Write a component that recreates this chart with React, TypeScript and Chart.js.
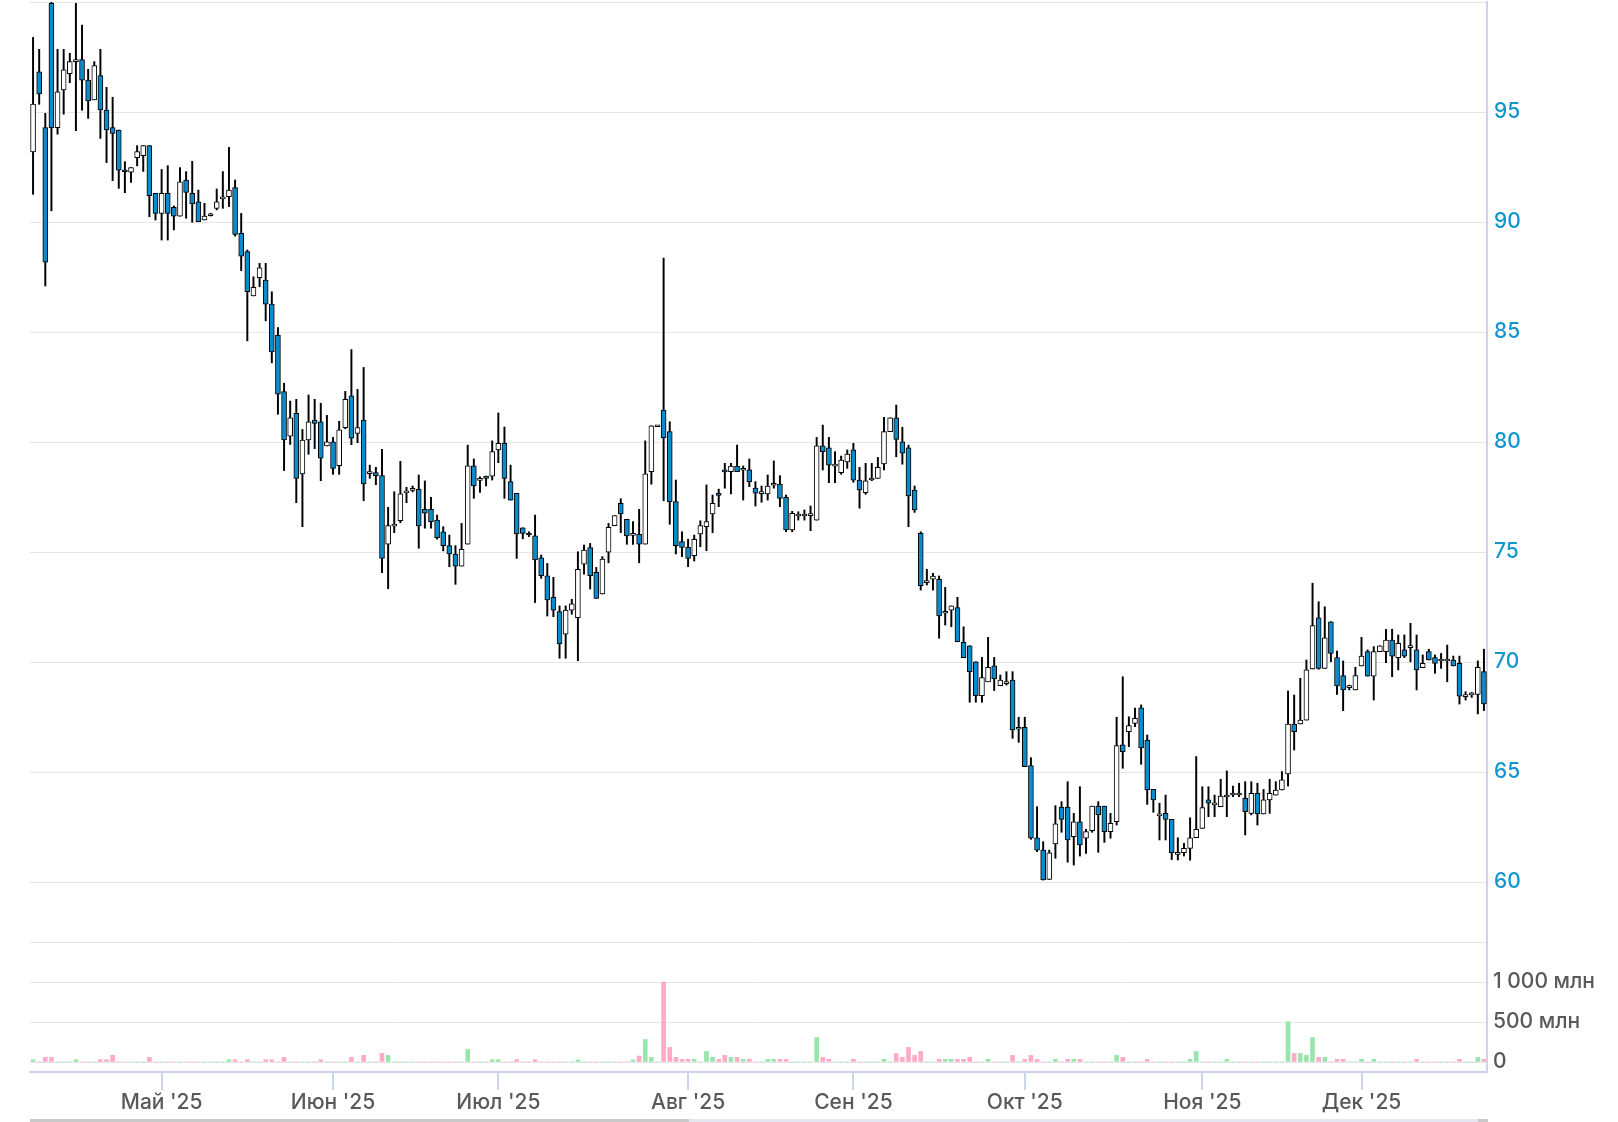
import React, { useEffect, useRef } from 'react';
import { Chart, registerables } from 'chart.js';

Chart.register(...registerables);

// ---- Data ----
const openPrices = [
  93.18, 96.83, 94.29, 99.94, 94.29, 96.0, 96.74, 97.29, 97.38, 96.45,
  95.55, 96.65, 95.09, 94.29, 94.18, 92.36, 92.26, 92.92, 93.01, 93.47,
  91.3, 90.39, 91.3, 90.67, 90.27, 91.91, 91.3, 90.92, 90.09, 90.3,
  90.62, 91.08, 91.15, 91.56, 89.48, 88.65, 86.64, 87.47, 87.36, 86.27,
  84.86, 82.29, 80.27, 81.3, 78.55, 80.09, 81.0, 80.92, 79.82, 80.01,
  78.92, 80.65, 82.1, 80.39, 81.0, 78.58, 78.61, 78.47, 75.36, 76.2,
  76.42, 77.7, 77.82, 77.85, 76.94, 76.94, 76.45, 75.92, 75.29, 74.91,
  74.36, 75.36, 78.92, 78.27, 78.45, 78.45, 79.64, 79.94, 78.2, 77.67,
  76.1, 75.84, 75.74, 74.74, 73.92, 72.94, 72.29, 71.27, 72.36, 72.01,
  74.45, 75.2, 74.08, 73.09, 74.99, 76.2, 77.21, 76.49, 75.78, 75.8,
  75.36, 78.65, 80.72, 81.45, 80.47, 77.29, 75.47, 75.21, 74.83, 75.82,
  76.15, 76.73, 77.64, 78.73, 78.65, 78.91, 78.74, 78.73, 77.9, 77.68,
  77.64, 78.06, 78.09, 77.49, 76.0, 76.66, 76.66, 76.68, 76.45, 79.83,
  79.74, 78.93, 78.61, 79.1, 79.64, 78.27, 77.7, 78.3, 78.35, 79.0,
  80.47, 81.1, 80.01, 79.74, 77.82, 75.85, 73.63, 73.76, 73.76, 72.24,
  72.36, 72.47, 70.89, 70.74, 70.01, 68.47, 69.1, 69.83, 68.92, 69.04,
  69.18, 66.97, 67.03, 65.29, 62.01, 61.45, 60.12, 61.73, 63.4, 63.4,
  62.06, 62.74, 61.99, 62.33, 63.45, 63.45, 62.29, 62.74, 66.23, 66.83,
  67.21, 67.92, 66.45, 64.21, 63.03, 63.12, 62.85, 61.28, 61.33, 61.53,
  62.01, 62.44, 63.73, 63.53, 63.42, 63.89, 63.98, 63.98, 63.8, 63.12,
  64.03, 63.09, 63.73, 63.95, 64.18, 64.91, 67.18, 67.18, 67.36, 69.68,
  72.01, 69.71, 71.83, 70.2, 69.38, 68.86, 68.73, 69.82, 70.47, 69.36,
  70.47, 70.47, 71.0, 70.2, 70.55, 70.68, 70.55, 69.74, 70.47, 70.2,
  70.07, 70.07, 70.09, 69.94, 68.45, 68.53, 68.53, 69.56,
];

const highPrices = [
  98.39, 97.85, 94.94, 100.0, 97.85, 97.85, 97.67, 99.94, 98.95, 96.94,
  97.29, 97.85, 96.12, 95.67, 94.18, 92.74, 92.47, 93.47, 93.47, 93.47,
  91.3, 92.39, 92.56, 90.73, 92.47, 92.29, 92.76, 91.45, 90.85, 90.4,
  91.5, 92.29, 93.39, 91.91, 90.39, 88.73, 87.51, 88.12, 88.12, 86.83,
  85.2, 82.67, 81.86, 81.94, 80.57, 82.14, 81.94, 81.76, 81.21, 80.21,
  80.94, 82.3, 84.2, 82.39, 83.39, 78.95, 78.85, 79.67, 77.03, 77.74,
  79.12, 77.94, 78.0, 78.5, 78.23, 77.49, 76.68, 76.15, 75.77, 75.29,
  76.3, 79.86, 79.23, 78.42, 78.45, 80.05, 81.32, 80.68, 78.95, 77.67,
  76.1, 75.92, 76.68, 74.86, 74.48, 73.85, 72.55, 72.55, 72.85, 75.01,
  75.32, 75.39, 74.3, 74.79, 76.3, 76.65, 77.42, 76.49, 76.38, 76.94,
  80.05, 80.74, 80.76, 88.36, 80.92, 78.27, 75.92, 75.58, 75.77, 76.42,
  78.05, 77.59, 77.86, 79.03, 79.03, 79.86, 78.91, 79.23, 78.2, 78.0,
  78.5, 79.14, 78.47, 77.59, 76.85, 76.83, 76.91, 77.09, 80.21, 80.77,
  80.21, 79.56, 79.36, 79.64, 79.94, 78.85, 79.03, 79.03, 79.3, 81.12,
  81.1, 81.68, 80.67, 79.86, 78.0, 75.92, 74.21, 74.03, 73.91, 73.39,
  72.55, 72.94, 71.6, 70.74, 70.01, 70.21, 71.12, 70.21, 69.41, 69.56,
  69.56, 67.49, 67.49, 65.65, 63.42, 61.83, 61.45, 63.47, 63.65, 64.56,
  63.12, 64.33, 62.39, 63.45, 63.65, 63.45, 63.12, 67.49, 69.33, 67.51,
  67.9, 68.05, 66.68, 64.21, 63.58, 63.95, 62.85, 62.01, 61.76, 62.92,
  65.7, 64.33, 64.33, 63.95, 64.67, 65.05, 64.36, 64.49, 64.56, 64.56,
  64.49, 64.21, 64.67, 64.56, 65.02, 68.68, 68.5, 69.26, 70.09, 73.58,
  72.74, 72.51, 71.83, 70.5, 70.05, 68.95, 69.76, 71.12, 70.55, 70.7,
  70.74, 71.49, 71.49, 71.23, 71.23, 71.76, 71.23, 70.32, 70.58, 70.32,
  70.39, 70.77, 70.27, 70.27, 68.65, 68.62, 70.05, 70.58,
];

const lowPrices = [
  91.26, 95.35, 87.09, 90.51, 93.99, 94.9, 96.33, 94.15, 95.08, 94.71,
  95.55, 93.8, 92.7, 91.88, 91.53, 91.33, 91.8, 92.55, 92.3, 90.24,
  90.09, 89.18, 89.18, 89.64, 90.27, 90.17, 89.99, 90.01, 90.09, 90.27,
  90.55, 90.62, 90.7, 89.36, 87.79, 84.6, 86.64, 87.06, 85.51, 83.6,
  81.26, 78.7, 79.89, 77.24, 76.15, 79.44, 79.7, 78.24, 79.82, 78.53,
  78.53, 80.6, 79.88, 79.97, 77.33, 78.35, 78.06, 74.06, 73.33, 75.88,
  76.33, 77.24, 77.73, 75.17, 76.08, 76.08, 75.58, 75.05, 74.33, 73.53,
  74.36, 75.36, 77.44, 77.71, 78.0, 78.27, 79.06, 77.44, 77.36, 74.71,
  75.6, 75.7, 72.7, 73.8, 72.09, 72.06, 70.17, 70.17, 72.17, 70.06,
  73.99, 73.32, 72.89, 73.09, 74.51, 76.2, 75.88, 75.35, 75.35, 74.51,
  75.36, 78.08, 80.72, 77.33, 76.26, 74.91, 74.79, 74.33, 74.59, 75.24,
  75.06, 75.88, 77.06, 77.9, 77.64, 78.65, 77.36, 77.97, 77.09, 77.26,
  77.36, 77.9, 77.06, 75.92, 75.92, 76.45, 76.45, 75.97, 76.45, 78.73,
  78.15, 78.15, 78.53, 78.8, 78.17, 76.99, 77.62, 78.24, 78.35, 78.73,
  80.47, 79.33, 78.99, 76.15, 76.8, 73.27, 73.5, 73.27, 71.08, 71.68,
  71.6, 70.92, 70.2, 68.17, 68.17, 68.17, 69.1, 68.7, 68.92, 68.95,
  66.53, 66.35, 65.24, 61.94, 61.38, 60.09, 60.12, 61.08, 62.26, 60.9,
  60.77, 61.18, 61.3, 62.26, 61.35, 61.8, 61.99, 62.59, 65.17, 66.15,
  67.06, 65.35, 63.53, 63.17, 61.91, 61.91, 61.02, 61.0, 61.18, 60.99,
  62.01, 62.44, 62.97, 62.97, 63.42, 62.97, 63.88, 63.88, 62.14, 63.05,
  62.59, 63.09, 63.12, 63.95, 64.18, 64.36, 66.0, 67.18, 67.36, 69.68,
  69.67, 69.71, 70.01, 68.53, 67.79, 68.73, 68.73, 69.82, 69.36, 68.27,
  70.47, 69.97, 69.33, 69.64, 70.2, 70.01, 68.73, 69.74, 70.09, 69.49,
  69.71, 69.1, 69.82, 68.09, 68.27, 68.39, 67.64, 67.79,
];

const closePrices = [
  95.36, 95.82, 88.17, 94.29, 95.92, 96.92, 97.29, 97.38, 96.45, 95.5,
  97.11, 95.09, 94.18, 94.03, 92.36, 92.3, 92.47, 93.2, 93.47, 91.2,
  90.39, 91.3, 90.39, 90.27, 91.83, 91.35, 90.82, 90.01, 90.27, 90.36,
  90.92, 91.12, 91.45, 89.44, 88.45, 86.83, 87.03, 87.92, 86.27, 84.1,
  82.17, 80.09, 81.1, 78.35, 80.09, 80.92, 80.85, 79.26, 80.01, 78.8,
  80.55, 81.94, 80.17, 80.65, 78.09, 78.64, 78.47, 74.71, 76.2, 76.24,
  77.64, 77.76, 77.88, 76.18, 76.76, 76.38, 75.65, 75.29, 74.91, 74.36,
  75.12, 78.92, 78.0, 78.33, 78.35, 79.56, 79.94, 78.35, 77.36, 75.82,
  75.85, 75.8, 74.64, 73.92, 72.82, 72.36, 70.82, 72.36, 72.64, 74.21,
  75.09, 73.92, 72.89, 74.68, 76.12, 76.65, 76.73, 75.73, 75.82, 75.36,
  78.55, 80.74, 80.76, 80.2, 77.29, 75.29, 75.21, 74.71, 75.58, 76.2,
  76.38, 77.21, 77.6, 78.65, 78.91, 78.65, 78.78, 78.2, 77.67, 77.72,
  78.0, 78.1, 77.44, 76.0, 76.76, 76.7, 76.7, 76.72, 79.83, 79.56,
  78.95, 78.97, 79.18, 79.45, 78.27, 77.82, 78.23, 78.34, 78.85, 80.47,
  81.1, 80.12, 79.49, 77.55, 76.91, 73.47, 73.67, 73.91, 72.09, 72.28,
  72.55, 70.92, 70.2, 69.56, 68.47, 69.29, 69.76, 69.23, 69.18, 69.08,
  66.91, 67.01, 65.24, 61.99, 61.45, 60.09, 61.33, 62.64, 62.85, 61.91,
  62.74, 61.68, 62.29, 63.45, 63.05, 62.29, 62.67, 66.2, 65.92, 67.11,
  67.44, 66.1, 64.18, 63.73, 63.07, 62.85, 61.33, 61.32, 61.53, 62.01,
  62.39, 63.38, 63.58, 63.57, 63.91, 63.93, 64.02, 64.02, 63.2, 64.03,
  63.09, 63.73, 64.03, 64.18, 64.64, 67.18, 66.83, 67.36, 69.64, 71.65,
  69.71, 71.1, 70.39, 68.91, 68.73, 68.9, 69.38, 70.27, 69.36, 70.47,
  70.74, 71.0, 70.27, 70.85, 70.27, 70.72, 69.64, 69.94, 70.09, 69.94,
  70.11, 70.11, 69.82, 68.45, 68.49, 68.57, 69.76, 68.09,
];

// volume, millions
const volumes = [
  29, 0, 58, 58, 0, 0, 0, 29, 0, 0, 0, 29, 29, 83, 0, 0, 0, 0, 0, 58,
  0, 0, 0, 0, 0, 0, 0, 0, 0, 0, 0, 0, 29, 29, 0, 29, 0, 0, 29, 29,
  0, 58, 0, 0, 0, 0, 0, 29, 0, 0, 0, 0, 58, 0, 83, 0, 0, 108, 83, 0,
  0, 0, 0, 0, 0, 0, 0, 0, 0, 0, 0, 157, 0, 0, 0, 29, 29, 0, 0, 29,
  0, 0, 29, 0, 0, 0, 0, 0, 0, 25, 0, 0, 0, 0, 0, 0, 0, 0, 25, 74,
  281, 58, 0, 1000, 182, 58, 33, 33, 33, 0, 132, 58, 33, 83, 58, 58, 33, 33, 0, 0,
  33, 33, 33, 33, 0, 0, 0, 0, 306, 58, 33, 0, 0, 0, 33, 0, 0, 0, 0, 33,
  0, 107, 58, 182, 83, 132, 0, 0, 33, 33, 33, 33, 33, 58, 0, 0, 33, 0, 0, 0,
  83, 0, 33, 83, 33, 0, 0, 33, 0, 33, 33, 33, 0, 0, 0, 0, 0, 83, 58, 0,
  0, 0, 33, 0, 0, 0, 0, 0, 0, 33, 132, 0, 0, 0, 0, 33, 0, 0, 0, 0,
  0, 0, 0, 0, 0, 504, 107, 107, 83, 306, 58, 58, 0, 33, 33, 0, 0, 33, 0, 33,
  0, 0, 0, 0, 0, 0, 33, 0, 0, 0, 0, 0, 0, 33, 0, 0, 58, 33,
];

const monthTickIndex = [21, 49, 76, 107, 134, 162, 191, 217];
const monthTickLabels = ["Май '25", "Июн '25", "Июл '25", "Авг '25", "Сен '25", "Окт '25", "Ноя '25", "Дек '25"];
const priceTicks = [60, 65, 70, 75, 80, 85, 90, 95, 100];
const volumeTicks = [0, 500, 1000, 1500];

// ---- Styles ----
const CANDLE_BLUE = '#0a8ccc';
const PRICE_LABEL = '#1196d2';
const GREY_LABEL = '#595959';
const GRID = '#e6e6e6';
const AXIS = '#ccd6eb';
const VOL_UP = '#98e6ae';
const VOL_DOWN = '#ffabc8';

const W = 1618;
const H = 1122;
const PLOT_LEFT = 30;
const PLOT_RIGHT = 1487;
const PLOT_TOP = 2;
const PLOT_BOTTOM = 1072;
const PX_PER_UNIT = 22;       // price pixels per 1.0
const VOL_PX = 0.08;          // pixels per million
const VOL_ZERO_Y = 1062;

const navLine = {
  id: 'navLine',
  afterLayout(chart: any) {
    // the volume axis takes no room in the layout; widen its label area afterwards
    const s = chart.scales.yv;
    if (s) {
      s.right = s.left + (W - PLOT_RIGHT);
      s.width = s.right - s.left;
    }
  },
  afterDraw(chart: any) {
    const ctx = chart.ctx;
    ctx.save();
    ctx.fillStyle = '#c9c9c9';
    ctx.fillRect(PLOT_LEFT, 1119, 659, 3);
    ctx.fillStyle = '#e4e7ef';
    ctx.fillRect(689, 1119, 789, 3);
    ctx.fillStyle = '#c9c9c9';
    ctx.fillRect(1478, 1119, PLOT_RIGHT + 1 - 1478, 3);
    ctx.restore();
  },
};

function fmtVol(v: number) {
  if (v === 0) return '0';
  const s = String(v).replace(/\B(?=(\d{3})+(?!\d))/g, ' ');
  return s + ' млн';
}

export default function App() {
  const ref = useRef<HTMLCanvasElement | null>(null);

  useEffect(() => {
    document.body.style.margin = '0';
    const canvas = ref.current;
    if (!canvas) return;

    const labels = openPrices.map((_, i) => String(i));
    const isUp = closePrices.map((c, i) => c >= openPrices[i]);
    const MIN_BODY = 2 / PX_PER_UNIT;
    const bodies = openPrices.map((o, i) => {
      let lo = Math.min(o, closePrices[i]);
      let hi = Math.max(o, closePrices[i]);
      if (hi - lo < MIN_BODY) {
        const m = (hi + lo) / 2;
        lo = m - MIN_BODY / 2;
        hi = m + MIN_BODY / 2;
      }
      return [lo, hi];
    });
    const wicks = lowPrices.map((l, i) => [l, highPrices[i]]);

    const plotH = PLOT_BOTTOM - PLOT_TOP;
    const priceMax = 100;
    const priceMin = priceMax - plotH / PX_PER_UNIT;
    const volMin = -(PLOT_BOTTOM - VOL_ZERO_Y) / VOL_PX;
    const volMax = (VOL_ZERO_Y - PLOT_TOP) / VOL_PX;

    const font = { family: 'Inter', size: 21, weight: '500' as any };

    const chart = new Chart(canvas, {
      type: 'bar',
      data: {
        labels,
        datasets: [
          {
            label: 'body',
            data: bodies as any,
            yAxisID: 'y',
            backgroundColor: isUp.map((u) => (u ? '#ffffff' : CANDLE_BLUE)),
            borderColor: '#000000',
            borderWidth: 1,
            borderSkipped: false,
            barThickness: 5,
            grouped: false,
            order: 0,
          } as any,
          {
            label: 'wick',
            data: wicks as any,
            yAxisID: 'y',
            backgroundColor: '#000000',
            borderWidth: 0,
            barThickness: 1.3,
            grouped: false,
            order: 1,
          } as any,
          {
            label: 'volume',
            data: volumes,
            yAxisID: 'yv',
            backgroundColor: isUp.map((u) => (u ? VOL_UP : VOL_DOWN)),
            borderWidth: 0,
            barThickness: 4,
            grouped: false,
            order: 2,
          } as any,
        ],
      },
      options: {
        responsive: false,
        animation: false,
        devicePixelRatio: 1,
        events: [],
        layout: { padding: { left: PLOT_LEFT, top: PLOT_TOP, right: 0, bottom: 0 } },
        plugins: { legend: { display: false }, tooltip: { enabled: false }, title: { display: false } },
        scales: {
          x: {
            type: 'category',
            offset: true,
            grid: {
              display: true,
              drawOnChartArea: false,
              drawTicks: true,
              tickLength: 18,
              color: AXIS,
              lineWidth: 2,
              offset: false,
            },
            border: { display: true, color: AXIS, width: 2 },
            ticks: {
              autoSkip: false,
              maxRotation: 0,
              minRotation: 0,
              padding: 0,
              color: GREY_LABEL,
              font,
              callback: (v: any) => {
                const k = monthTickIndex.indexOf(Number(v));
                return k >= 0 ? monthTickLabels[k] : '';
              },
            },
            afterBuildTicks: (s: any) => {
              s.ticks = monthTickIndex.map((v) => ({ value: v }));
            },
            afterFit: (s: any) => {
              s.height = H - PLOT_BOTTOM;
              s.paddingLeft = 0;
              s.paddingRight = 0;
            },
          } as any,
          y: {
            type: 'linear',
            position: 'right',
            weight: 1,
            min: priceMin,
            max: priceMax,
            grid: { color: GRID, lineWidth: 1, drawTicks: false },
            border: { display: true, color: AXIS, width: 2 },
            ticks: {
              padding: 7,
              color: PRICE_LABEL,
              font,
              callback: (v: any) => (Number(v) === 100 ? '' : String(v)),
            },
            afterBuildTicks: (s: any) => {
              s.ticks = priceTicks.map((v) => ({ value: v }));
            },
            afterFit: (s: any) => {
              s.width = W - PLOT_RIGHT;
              s.paddingTop = 0;
              s.paddingBottom = 0;
            },
          } as any,
          yv: {
            type: 'linear',
            position: 'right',
            weight: 0,
            min: volMin,
            max: volMax,
            grid: { color: GRID, lineWidth: 1, drawTicks: false },
            border: { display: false },
            ticks: {
              padding: 6,
              color: GREY_LABEL,
              font,
              callback: (v: any) => (Number(v) === 1500 ? '' : fmtVol(Number(v))),
            },
            afterBuildTicks: (s: any) => {
              s.ticks = volumeTicks.map((v) => ({ value: v }));
            },
            afterFit: (s: any) => {
              s.width = 0;
              s.paddingTop = 0;
              s.paddingBottom = 0;
            },
          } as any,
        },
      },
      plugins: [navLine],
    });

    return () => chart.destroy();
  }, []);

  return (
    <canvas
      ref={ref}
      width={W}
      height={H}
      style={{ display: 'block', width: W, height: H }}
    />
  );
}
